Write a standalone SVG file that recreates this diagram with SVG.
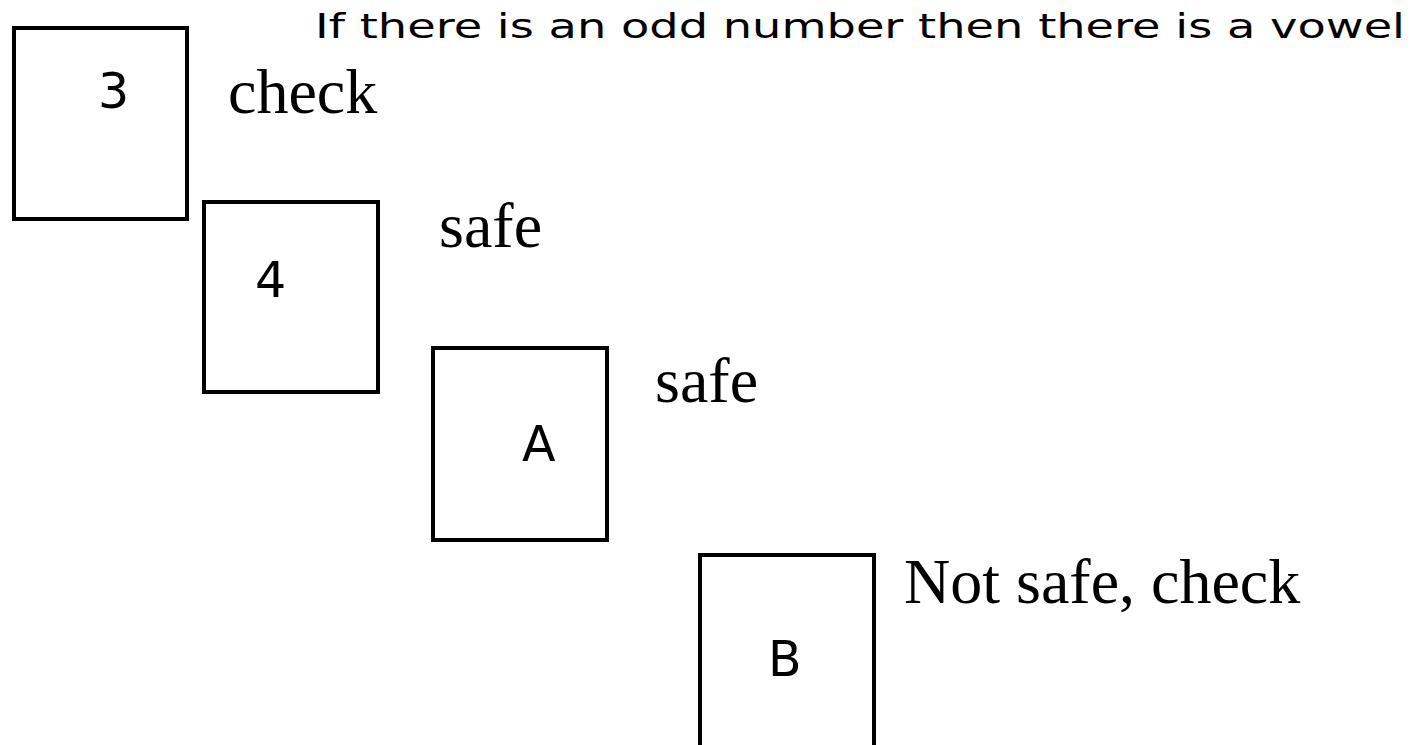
<svg xmlns="http://www.w3.org/2000/svg" width="1423" height="745" viewBox="0 0 1423 745">
<style>
.box{fill:#fff;stroke:#000;stroke-width:4}
.card{font-family:"DejaVu Sans","Liberation Sans",sans-serif;font-size:49px;fill:#000}
.note{font-family:"Liberation Serif","DejaVu Serif",serif;font-size:64px;fill:#000}
.title{font-family:"DejaVu Sans","Liberation Sans",sans-serif;font-size:33px;fill:#000}
</style>
<rect width="1423" height="745" fill="#fff"/>
<text id="title" class="title" x="315" y="37.5" textLength="1090" lengthAdjust="spacingAndGlyphs">If there is an odd number then there is a vowel</text>
<g id="card-3">
<rect class="box" x="14" y="28" width="173" height="191"/>
<text class="card" x="98" y="108">3</text>
<text class="note" x="228" y="113">check</text>
</g>
<g id="card-4">
<rect class="box" x="204" y="202" width="174" height="190"/>
<text class="card" x="255" y="297">4</text>
<text class="note" x="439" y="247">safe</text>
</g>
<g id="card-A">
<rect class="box" x="433" y="348" width="174" height="192"/>
<text class="card" x="522" y="461">A</text>
<text class="note" x="655" y="402">safe</text>
</g>
<g id="card-B">
<rect class="box" x="700" y="555" width="174" height="210"/>
<text class="card" x="768" y="676">B</text>
<text class="note" x="904" y="603">Not safe, check</text>
</g>
<g id="connectors"></g>
</svg>
